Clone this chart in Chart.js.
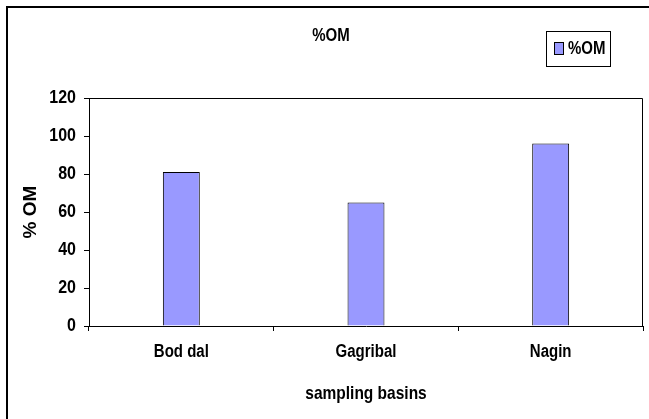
<!DOCTYPE html>
<html>
<head>
<meta charset="utf-8">
<title>%OM</title>
<script src="https://cdn.jsdelivr.net/npm/chart.js@4.4.1/dist/chart.umd.min.js"></script>
<style>
  html, body { margin: 0; padding: 0; background: #ffffff; }
  #wrap { width: 649px; height: 419px; }
</style>
</head>
<body>
<div id="wrap"><canvas id="chart" width="649" height="419"></canvas></div>
<script>
// Organic matter (%) per sampling basin
const categories = ['Bod dal', 'Gagribal', 'Nagin'];
const omValues = [81, 65, 96];
const seriesName = '%OM';
const yTicks = [0, 20, 40, 60, 80, 100, 120];

const FONT = '"Liberation Sans", Arial, sans-serif';
const BAR_FILL = '#9999ff';
const TEXT_STRETCH = 1.2;   // tall, condensed-looking lettering

// Draw horizontal text slightly taller than the font's natural shape
const tallTextPlugin = {
  id: 'tallText',
  beforeInit(chart) {
    const ctx = chart.ctx;
    const plain = ctx.fillText.bind(ctx);
    ctx.fillText = function (text, x, y, maxWidth) {
      const m = this.getTransform();
      if (Math.abs(m.b) > 1e-6 || Math.abs(m.c) > 1e-6) {
        return maxWidth === undefined ? plain(text, x, y) : plain(text, x, y, maxWidth);
      }
      this.save();
      this.translate(x, y);
      this.scale(1, TEXT_STRETCH);
      if (maxWidth === undefined) plain(text, 0, 0); else plain(text, 0, 0, maxWidth);
      this.restore();
    };
  }
};

// Outer frame of the chart sheet plus the box around the plot area
const framePlugin = {
  id: 'frame',
  beforeDraw(chart) {
    const ctx = chart.ctx;
    ctx.save();
    ctx.fillStyle = '#ffffff';
    ctx.fillRect(0, 0, chart.width, chart.height);
    ctx.strokeStyle = '#000000';
    ctx.lineWidth = 2;
    ctx.beginPath();
    ctx.moveTo(7, chart.height + 5);
    ctx.lineTo(7, 7);
    ctx.lineTo(chart.width + 5, 7);
    ctx.stroke();
    ctx.restore();
  },
  afterDatasetsDraw(chart) {
    const a = chart.chartArea;
    const ctx = chart.ctx;
    ctx.save();
    ctx.strokeStyle = '#000000';
    ctx.lineWidth = 1;
    ctx.beginPath();
    ctx.moveTo(Math.round(a.left) + 0.5, Math.round(a.top) + 0.5);
    ctx.lineTo(Math.round(a.right) - 0.5, Math.round(a.top) + 0.5);
    ctx.lineTo(Math.round(a.right) - 0.5, Math.round(a.bottom));
    ctx.stroke();
    ctx.restore();
  }
};

// Boxed legend in the top-right corner
const boxLegendPlugin = {
  id: 'boxLegend',
  afterDraw(chart) {
    const ds = chart.data.datasets[0];
    const a = chart.chartArea;
    const ctx = chart.ctx;
    const right = Math.round(a.right) - 33;
    const left = right - 64;
    const top = 31, bottom = 66;
    ctx.save();
    ctx.fillStyle = '#ffffff';
    ctx.fillRect(left, top, right - left, bottom - top);
    ctx.strokeStyle = '#000000';
    ctx.lineWidth = 1;
    ctx.strokeRect(left + 0.5, top + 0.5, right - left, bottom - top);
    ctx.fillStyle = ds.backgroundColor;
    ctx.fillRect(left + 8.5, 42.5, 9, 12);
    ctx.strokeRect(left + 8.5, 42.5, 9, 12);
    ctx.fillStyle = '#000000';
    ctx.font = 'bold 15px ' + FONT;
    ctx.textBaseline = 'middle';
    ctx.textAlign = 'left';
    ctx.fillText(ds.label, left + 22, 49);
    ctx.restore();
  }
};

new Chart(document.getElementById('chart'), {
  type: 'bar',
  data: {
    labels: categories,
    datasets: [{
      label: seriesName,
      data: omValues,
      backgroundColor: BAR_FILL,
      borderColor: '#000000',
      borderWidth: 1,
      barPercentage: 0.2,
      categoryPercentage: 1.0
    }]
  },
  options: {
    responsive: false,
    animation: false,
    devicePixelRatio: 1,
    layout: { padding: { left: 19, right: 6, top: 0, bottom: 0 } },
    plugins: {
      legend: { display: false },
      tooltip: { enabled: false },
      title: {
        display: true,
        text: '%OM',
        color: '#000000',
        font: { family: FONT, size: 15, weight: 'bold', lineHeight: 1.2 },
        padding: { top: 27, bottom: 53 }
      }
    },
    scales: {
      x: {
        grid: {
          display: true,
          offset: true,
          drawOnChartArea: false,
          drawTicks: true,
          tickLength: 5,
          color: '#000000'
        },
        border: { display: true, color: '#000000', width: 1 },
        ticks: {
          color: '#000000',
          padding: 12,
          maxRotation: 0,
          font: { family: FONT, size: 15, weight: 'bold' }
        },
        title: {
          display: true,
          text: 'sampling basins',
          color: '#000000',
          font: { family: FONT, size: 15.5, weight: 'bold', lineHeight: 1.2 },
          padding: { top: 0, bottom: 16 }
        },
        afterFit(scale) { scale.height = 93; }
      },
      y: {
        min: 0,
        max: 120,
        afterBuildTicks(scale) { scale.ticks = yTicks.map(v => ({ value: v })); },
        grid: {
          display: true,
          drawOnChartArea: false,
          drawTicks: true,
          tickLength: 5,
          color: '#000000'
        },
        border: { display: true, color: '#000000', width: 1 },
        ticks: {
          color: '#000000',
          padding: 8,
          font: { family: FONT, size: 16, weight: 'bold' }
        },
        title: {
          display: true,
          text: '% OM',
          color: '#000000',
          font: { family: FONT, size: 19, weight: 'bold', lineHeight: 1.2 },
          padding: { top: 0, bottom: 0 }
        },
        afterFit(scale) { scale.width = 70; }
      }
    }
  },
  plugins: [tallTextPlugin, framePlugin, boxLegendPlugin]
});
</script>
</body>
</html>
